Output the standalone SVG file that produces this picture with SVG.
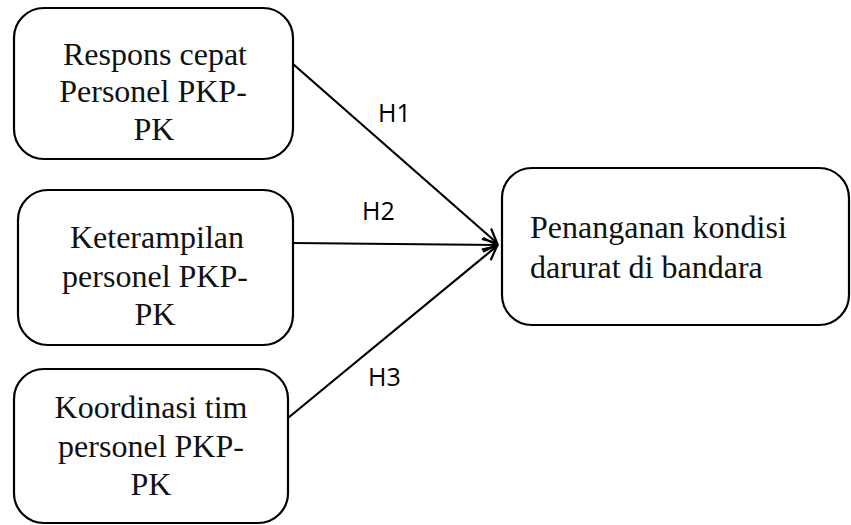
<svg xmlns="http://www.w3.org/2000/svg" width="851" height="525" viewBox="0 0 851 525">
<style>
.box{fill:#fff;stroke:#000;stroke-width:2.2}
.t{font-family:"Liberation Serif","Times New Roman",serif;font-size:32px;fill:#111}
.c{text-anchor:middle}
.h{font-family:"Open Sans","Liberation Sans",sans-serif;font-size:25px;fill:#000}
.ln{stroke:#000;stroke-width:2.2;fill:none}
</style>
<defs>
<marker id="arr" markerWidth="20" markerHeight="20" refX="16" refY="8" orient="auto" markerUnits="userSpaceOnUse">
<polyline points="2,1 16,8 2,15" fill="none" stroke="#000" stroke-width="2.2"/>
</marker>
</defs>
<rect width="851" height="525" fill="#fff"/>
<g id="connectors">
<line class="ln" x1="293" y1="64" x2="497" y2="243" marker-end="url(#arr)"/>
<line class="ln" x1="293" y1="243" x2="497" y2="245" marker-end="url(#arr)"/>
<line class="ln" x1="288" y1="418" x2="497" y2="246" marker-end="url(#arr)"/>
<text class="h" x="378" y="122">H1</text>
<text class="h" x="362" y="220">H2</text>
<text class="h" x="368" y="386">H3</text>
</g>
<g id="n1">
<rect class="box" x="14" y="8" width="279" height="151" rx="30"/>
<text class="t c" x="155" y="65">Respons cepat</text>
<text class="t c" x="153" y="102">Personel PKP-</text>
<text class="t c" x="154" y="140">PK</text>
</g>
<g id="n2">
<rect class="box" x="18" y="190" width="275" height="155" rx="30"/>
<text class="t c" x="157" y="248">Keterampilan</text>
<text class="t c" x="155" y="287">personel PKP-</text>
<text class="t c" x="155" y="325">PK</text>
</g>
<g id="n3">
<rect class="box" x="14" y="369" width="274" height="154" rx="30"/>
<text class="t c" x="151" y="418">Koordinasi tim</text>
<text class="t c" x="151" y="457">personel PKP-</text>
<text class="t c" x="151" y="495">PK</text>
</g>
<g id="n4">
<rect class="box" x="502" y="168" width="347" height="157" rx="30"/>
<text class="t" x="530" y="238">Penanganan kondisi</text>
<text class="t" x="530" y="278">darurat di bandara</text>
</g>
</svg>
